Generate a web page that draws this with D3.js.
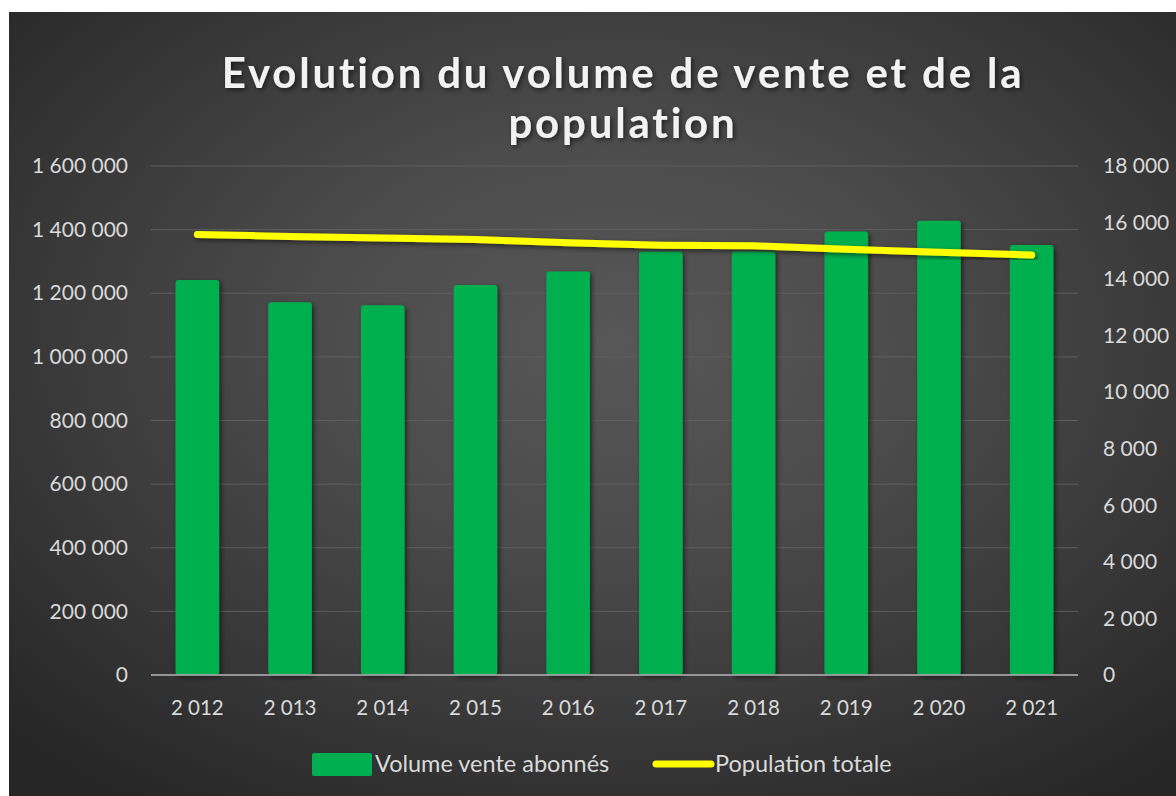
<!DOCTYPE html>
<html>
<head>
<meta charset="utf-8">
<script src="https://cdn.jsdelivr.net/npm/d3@7"></script>
<style>
  body { margin: 0; background: #fff; }
  svg text { font-family: Lato, "Open Sans", sans-serif; }
</style>
</head>
<body>
<svg id="chart" width="1176" height="796"></svg>
<script>
// Data
const years      = [ '2 012', '2 013', '2 014', '2 015', '2 016', '2 017', '2 018', '2 019', '2 020', '2 021' ];
const volume     = [ 1242000, 1172000, 1162000, 1226000, 1268000, 1331000, 1331000, 1394000, 1428000, 1352000 ];
const population = [ 15580, 15510, 15450, 15400, 15290, 15200, 15180, 15060, 14950, 14850 ];
const leftTicks  = [ 0, 200000, 400000, 600000, 800000, 1000000, 1200000, 1400000, 1600000 ];
const rightTicks = [ 0, 2000, 4000, 6000, 8000, 10000, 12000, 14000, 16000, 18000 ];
const titleLines = [ 'Evolution du volume de vente et de la', 'population' ];
const seriesNames = [ 'Volume vente abonnés', 'Population totale' ];

const W = 1176, H = 796;
const margin = { top: 166, bottom: 121, left: 151, right: 98 };

const fr = d3.formatLocale( { decimal: ',', thousands: '\u00a0', grouping: [3], currency: ['', ' €'] } );
const fmt = fr.format( ',d' );

const svg = d3.select( '#chart' );
const defs = svg.append( 'defs' );

// background gradient
const grad = defs.append( 'radialGradient' )
  .attr( 'id', 'bg' ).attr( 'cx', '52%' ).attr( 'cy', '42%' ).attr( 'r', '72%' );
grad.append( 'stop' ).attr( 'offset', '0%' ).attr( 'stop-color', '#575757' );
grad.append( 'stop' ).attr( 'offset', '35%' ).attr( 'stop-color', '#4c4c4c' );
grad.append( 'stop' ).attr( 'offset', '100%' ).attr( 'stop-color', '#262626' );

const shadow = defs.append( 'filter' ).attr( 'id', 'shadow' )
  .attr( 'x', '-20%' ).attr( 'y', '-20%' ).attr( 'width', '140%' ).attr( 'height', '140%' );
shadow.append( 'feDropShadow' )
  .attr( 'dx', 2 ).attr( 'dy', 2 ).attr( 'stdDeviation', 2.5 )
  .attr( 'flood-color', '#000' ).attr( 'flood-opacity', 0.55 );

svg.append( 'rect' )
  .attr( 'x', 9 ).attr( 'y', 12 )
  .attr( 'width', W - 9 ).attr( 'height', H - 12 )
  .attr( 'fill', 'url(#bg)' );

// scales
const x = d3.scaleBand( )
  .domain( years )
  .range( [ margin.left, W - margin.right ] )
  .paddingInner( 0.53 ).paddingOuter( 0.265 );
const yL = d3.scaleLinear( ).domain( [ 0, 1600000 ] ).range( [ H - margin.bottom, margin.top ] );
const yR = d3.scaleLinear( ).domain( [ 0, 18000 ] ).range( [ H - margin.bottom, margin.top ] );

// gridlines
svg.append( 'g' )
  .selectAll( 'line' )
  .data( leftTicks.slice( 1 ) )
  .enter( )
  .append( 'line' )
    .attr( 'x1', margin.left ).attr( 'x2', W - margin.right )
    .attr( 'y1', d => yL( d ) ).attr( 'y2', d => yL( d ) )
    .attr( 'stroke', '#5e5e5e' ).attr( 'stroke-width', 1 );

// left axis
const leftAxis = svg.append( 'g' )
  .attr( 'transform', `translate( ${margin.left - 23}, 0 )` )
  .call( d3.axisLeft( yL ).tickValues( leftTicks ).tickFormat( fmt ).tickSize( 0 ).tickPadding( 0 ) );
leftAxis.select( '.domain' ).remove( );

// right axis
const rightAxis = svg.append( 'g' )
  .attr( 'transform', `translate( ${W - margin.right + 25}, 0 )` )
  .call( d3.axisRight( yR ).tickValues( rightTicks ).tickFormat( fmt ).tickSize( 0 ).tickPadding( 0 ) );
rightAxis.select( '.domain' ).remove( );

// bottom axis labels
const bottomAxis = svg.append( 'g' )
  .attr( 'transform', `translate( 0, ${H - margin.bottom + 25} )` )
  .call( d3.axisBottom( x ).tickSize( 0 ).tickPadding( 0 ) );
bottomAxis.select( '.domain' ).remove( );

svg.selectAll( '.tick text' )
  .attr( 'fill', '#d9d9d9' )
  .style( 'font-size', '21px' );
bottomAxis.selectAll( '.tick text' ).attr( 'dy', '0.71em' ).style( 'font-size', '20.5px' );

// bars
svg.append( 'g' )
  .attr( 'filter', 'url(#shadow)' )
  .selectAll( 'rect' )
  .data( volume )
  .enter( )
  .append( 'rect' )
    .attr( 'x', ( d, i ) => x( years[i] ) )
    .attr( 'y', d => yL( d ) )
    .attr( 'width', x.bandwidth( ) )
    .attr( 'height', d => yL( 0 ) - yL( d ) )
    .attr( 'rx', 3 )
    .attr( 'fill', '#00b050' );

// zero line
svg.append( 'line' )
  .attr( 'x1', margin.left ).attr( 'x2', W - margin.right )
  .attr( 'y1', yL( 0 ) ).attr( 'y2', yL( 0 ) )
  .attr( 'stroke', '#a6a6a6' ).attr( 'stroke-width', 2 ).attr( 'opacity', 0.85 );

// population line
const line = d3.line( )
  .x( ( d, i ) => x( years[i] ) + x.bandwidth( ) / 2 )
  .y( d => yR( d ) );
svg.append( 'path' )
  .datum( population )
  .attr( 'd', line )
  .attr( 'fill', 'none' )
  .attr( 'stroke', '#ffff00' )
  .attr( 'stroke-width', 7 )
  .attr( 'stroke-linecap', 'round' )
  .attr( 'stroke-linejoin', 'round' )
  .attr( 'filter', 'url(#shadow)' );

// title
svg.append( 'g' )
  .attr( 'filter', 'url(#shadow)' )
  .selectAll( 'text' )
  .data( titleLines )
  .enter( )
  .append( 'text' )
    .attr( 'x', 623 )
    .attr( 'y', ( d, i ) => 88 + i * 50 )
    .attr( 'text-anchor', 'middle' )
    .attr( 'fill', '#f2f2f2' )
    .style( 'font-size', '42px' )
    .style( 'font-weight', 'bold' )
    .style( 'letter-spacing', '2.8px' )
    .text( d => d );

// legend
const legend = svg.append( 'g' ).attr( 'id', 'legend' );
legend.append( 'rect' )
  .attr( 'x', 312 ).attr( 'y', 753 ).attr( 'width', 60 ).attr( 'height', 23 )
  .attr( 'rx', 2 ).attr( 'fill', '#00b050' );
legend.append( 'line' )
  .attr( 'x1', 656 ).attr( 'x2', 711 ).attr( 'y1', 764 ).attr( 'y2', 764 )
  .attr( 'stroke', '#ffff00' ).attr( 'stroke-width', 7 ).attr( 'stroke-linecap', 'round' );
legend.selectAll( 'text' )
  .data( seriesNames )
  .enter( )
  .append( 'text' )
    .attr( 'x', ( d, i ) => i === 0 ? 375 : 715 )
    .attr( 'y', 772 )
    .attr( 'fill', '#d9d9d9' )
    .style( 'font-size', '23.5px' )
    .text( d => d );
</script>
</body>
</html>
